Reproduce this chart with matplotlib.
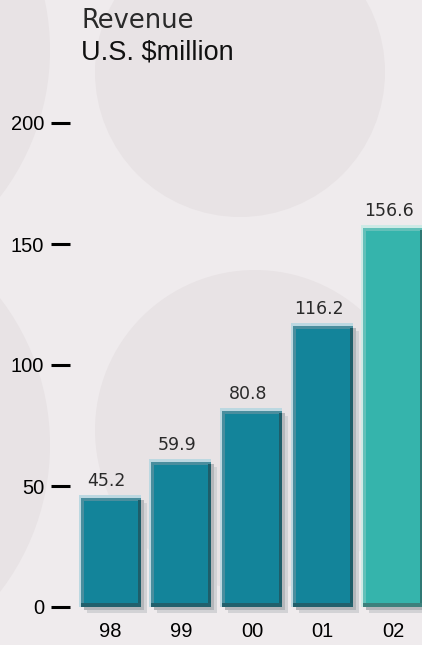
import numpy as np
import matplotlib
matplotlib.use("Agg")
import matplotlib.pyplot as plt
from matplotlib.patches import Circle

# data
years = ['98', '99', '00', '01', '02']
revenue = [45.2, 59.9, 80.8, 116.2, 156.6]
yticks = [0, 50, 100, 150, 200]

W, H = 422, 645
fig = plt.figure(figsize=(W/100., H/100.), dpi=100)
fig.patch.set_facecolor('#efebed')

# background discs
bg = fig.add_axes([0, 0, 1, 1], zorder=0)
bg.set_xlim(0, W)
bg.set_ylim(H, 0)
bg.axis('off')
for (cx, cy, r) in [(-191, 50, 241), (240, 72, 145), (-191, 445, 241), (255, 430, 160)]:
    bg.add_patch(Circle((cx, cy), r, color='#e8e3e5', lw=0))

# main axes, pixel box: x 70..422, y 123..607
ax = fig.add_axes([70/W, (H-607)/H, (W-70)/W, (607-123)/H], zorder=1)
ax.set_facecolor('none')
x = np.arange(len(years))
ax.set_xlim(-0.573, 4.406)
ax.set_ylim(0, 200)

px = 1/70.7   # one pixel in x data units
py = 1/2.42   # one pixel in y data units
bw = 60*px

body = ['#13849a']*4 + ['#35b4ac']
inner = ['#4a8e9e']*4 + ['#63c0b9']
halo = ['#bcd8e1']*4 + ['#cdeae6']
dark = ['#1e5d69']*4 + ['#2f7874']
bottom = ['#22606c']*4 + ['#3d807c']

for i, v in enumerate(revenue):
    # shadow
    ax.bar(x[i]+6*px, v+1*py, width=bw, bottom=-6*py, color='#d2d2d5', lw=0, clip_on=False, zorder=1)
    ax.bar(x[i]+3*px, v+1*py, width=bw, bottom=-3*py, color='#b4b6ba', lw=0, clip_on=False, zorder=1.1)
    # halo on top/left
    ax.bar(x[i]-1*px, v+3*py, width=bw+2*px, color=halo[i], lw=0, zorder=2)
    # inner light edge
    ax.bar(x[i], v, width=bw, color=inner[i], lw=0, zorder=3)
    # body
    ax.bar(x[i]+1.5*px, v-3*py, width=bw-3*px, color=body[i], lw=0, zorder=4)
    # right dark strip
    ax.bar(x[i]+bw/2-1.5*px, v-2*py, width=3*px, color=dark[i], lw=0, zorder=5)
    # bottom dark strip
    ax.bar(x[i], 4*py, width=bw, color=bottom[i], lw=0, zorder=5)
    ax.text(x[i]-4*px, v+12*py, '%.1f' % v, ha='center', va='baseline',
            fontsize=12.5, family='DejaVu Sans', color='#2a2a2a', zorder=6)

for s in ax.spines.values():
    s.set_visible(False)

ax.set_yticks(yticks)
ax.set_yticklabels([str(t) for t in yticks], family='Liberation Sans')
ax.tick_params(axis='y', direction='out', length=13.7, width=2.2, pad=5,
               labelsize=14.5, color='black')
ax.set_xticks(x)
ax.set_xticklabels(years, family='Liberation Sans')
ax.tick_params(axis='x', length=0, pad=10.5, labelsize=14.5)

# title
fig.text(81/W, 1-27.7/H, 'Revenue', fontsize=18.5, family='DejaVu Sans',
         color='#2a2a2a', va='baseline', ha='left')
fig.text(81/W, 1-59.3/H, 'U.S. $million', fontsize=19.5, family='Liberation Sans',
         color='#111111', va='baseline', ha='left')

plt.savefig('out.png', dpi=100, facecolor=fig.get_facecolor())
